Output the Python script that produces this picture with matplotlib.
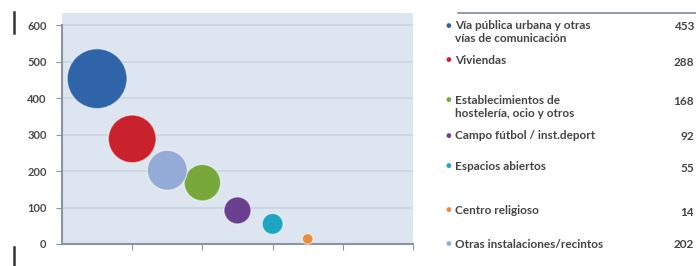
import numpy as np
import matplotlib
matplotlib.use("Agg")
import matplotlib.pyplot as plt

# legend order, as in the table on the right
labels = ["Vía pública urbana y otras\nvías de comunicación",
          "Viviendas",
          "Establecimientos de\nhostelería, ocio y otros",
          "Campo fútbol / inst.deport",
          "Espacios abiertos",
          "Centro religioso",
          "Otras instalaciones/recintos"]
values = np.array([453, 288, 168, 92, 55, 14, 202])
colors = ["#2f64a9", "#c9222c", "#78a83c", "#6b3f8f", "#1ea5c2", "#ea8a3c", "#93abd6"]
yticks = [0, 100, 200, 300, 400, 500, 600]

# bubbles are laid out from biggest to smallest, half a step apart
rank = np.argsort(np.argsort(-values))
xpos = 0.5 * (rank + 1)

plt.rcParams['font.family'] = ['Lato', 'DejaVu Sans']

fig = plt.figure(figsize=(6.96, 2.66), dpi=100)
ax = fig.add_axes([62/696, 22/266, 351/696, 231/266])
ax.set_facecolor("#dde6f0")
ax.set_xlim(0, 5)
ax.set_ylim(0, 633)

for y in yticks:
    ax.axhline(y, color="#c9d5e2", lw=1.2, zorder=0)

ax.scatter(xpos, values, s=values*4.1, c=colors, edgecolors=(1, 1, 1, 0.5),
           linewidths=1.0, zorder=3, clip_on=False)

ax.set_yticks(yticks)
ax.set_yticklabels([str(v) for v in yticks], fontsize=8, fontweight='bold', color="#4a4a4a")
ax.set_xticks([1, 2, 3, 4, 5])
ax.set_xticklabels([])
ax.tick_params(axis='y', length=4, color="#8a94a6", pad=7)
ax.tick_params(axis='x', length=4, direction='out', color="#8a94a6")
for side in ['top', 'right']:
    ax.spines[side].set_visible(False)
for side in ['left', 'bottom']:
    ax.spines[side].set_color("#8a94a6")
    ax.spines[side].set_linewidth(1.5)
ax.spines['left'].set_bounds(0, 600)

# small dark marks at the left edge
fig.add_artist(plt.Line2D([14/696, 14/696], [1 - 12/266, 1 - 33/266], color="#333333", lw=1.8))
fig.add_artist(plt.Line2D([14/696, 14/696], [0, 1 - 247/266], color="#333333", lw=1.8))

# table on the right
fig.add_artist(plt.Line2D([458/696, 1], [1 - 13/266, 1 - 13/266], color="#7f8a95", lw=1.2))
row_y = [26, 61, 101, 136, 167, 211, 245]
num_y = [26, 63, 102, 136, 168, 213, 245]
for lab, v, c, ry, ny in zip(labels, values, colors, row_y, num_y):
    fig.text(448/696, 1 - ry/266, "\u25cf", color=c, fontsize=7, ha='center', va='center')
    fig.text(455/696, 1 - (ry - 6)/266, lab, color="#444444", fontsize=8.5, fontweight='bold',
             ha='left', va='top', linespacing=1.25)
    fig.text(694/696, 1 - ny/266, str(v), color="#444444", fontsize=8.5, fontweight='bold',
             ha='right', va='center')

fig.savefig("out.png", dpi=100)
